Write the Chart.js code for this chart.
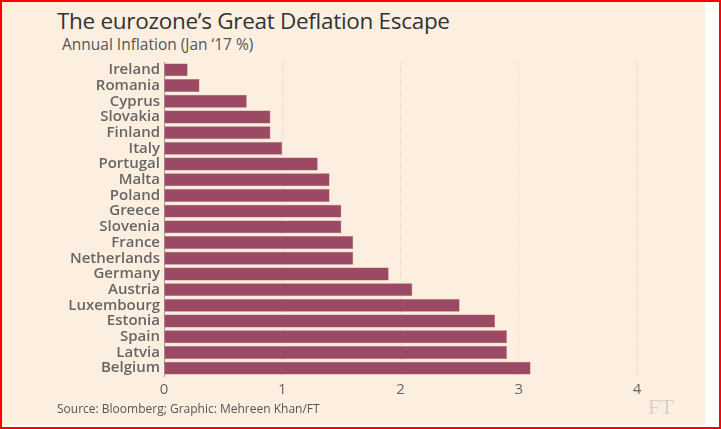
<!DOCTYPE html>
<html>
<head>
<meta charset="utf-8">
<script src="https://cdn.jsdelivr.net/npm/chart.js@4"></script>
<style>
  html, body { margin: 0; padding: 0; background: #fff; }
  #frame { position: absolute; left: 0; top: 0; width: 717px; height: 425px; border: 2px solid #f00; background: #fff; }
  #paper { position: absolute; left: 0; top: 0; width: 703px; height: 423px; background: #fcefe0; }
  .txt { position: absolute; font-family: "Open Sans", sans-serif; white-space: nowrap; }
  #title { left: 55px; top: 3px; font-size: 22.5px; color: #333; letter-spacing: -0.3px; }
  #subtitle { left: 60px; top: 31px; font-size: 15.5px; color: #555; }
  #source { left: 55px; top: 398px; font-size: 12px; color: #555; }
  #logo { position: absolute; left: 646px; top: 392px; font-family: "Liberation Serif", serif; font-size: 22px; color: #d9d0c6; }
  #wrap { position: absolute; left: 0; top: 48px; width: 703px; height: 360px; }
</style>
</head>
<body>
<div id="frame">
  <div id="paper">
    <div id="title" class="txt">The eurozone’s Great Deflation Escape</div>
    <div id="subtitle" class="txt">Annual Inflation (Jan ‘17 %)</div>
    <div id="wrap"><canvas id="inflationChart"></canvas></div>
    <div id="source" class="txt">Source: Bloomberg; Graphic: Mehreen Khan/FT</div>
    <div id="logo">FT</div>
  </div>
</div>
<script>
var countries = ['Ireland', 'Romania', 'Cyprus', 'Slovakia', 'Finland', 'Italy', 'Portugal', 'Malta', 'Poland', 'Greece',
                 'Slovenia', 'France', 'Netherlands', 'Germany', 'Austria', 'Luxembourg', 'Estonia', 'Spain', 'Latvia', 'Belgium'];
var inflation = [0.2, 0.3, 0.7, 0.9, 0.9, 1.0, 1.3, 1.4, 1.4, 1.5,
                 1.5, 1.6, 1.6, 1.9, 2.1, 2.5, 2.8, 2.9, 2.9, 3.1];
var xTicks = [0, 1, 2, 3, 4];

document.addEventListener('DOMContentLoaded', function() {
    var ctx = document.getElementById('inflationChart').getContext('2d');

    new Chart(ctx, {
        type: 'bar',
        data: {
            labels: countries,
            datasets: [{
                label: 'Annual inflation',
                data: inflation,
                backgroundColor: '#9c4a63',
                borderColor: '#b0657a',
                borderWidth: 0.5,
                barPercentage: 0.82,
                categoryPercentage: 1
            }]
        },
        options: {
            indexAxis: 'y',
            responsive: true,
            maintainAspectRatio: false,
            animation: false,
            layout: { padding: { left: 0, right: 68, top: 12, bottom: 8 } },
            scales: {
                x: {
                    min: 0,
                    max: 4,
                    afterBuildTicks: function(scale) {
                        scale.ticks = xTicks.map(function(v) { return { value: v }; });
                    },
                    afterFit: function(scale) { scale.height = 26; },
                    grid: {
                        drawTicks: false,
                        color: function(c) { return c.tick && c.tick.value === 0 ? 'rgba(0,0,0,0)' : '#d6cbc0'; },
                        lineWidth: 1
                    },
                    border: { display: false, dash: [1, 2] },
                    ticks: {
                        padding: 5,
                        color: '#666',
                        font: { family: 'Open Sans', size: 15 }
                    }
                },
                y: {
                    afterFit: function(scale) { scale.width = 162; },
                    grid: { display: false, drawTicks: false },
                    border: { display: true, color: '#9a9a9a', width: 1 },
                    ticks: {
                        autoSkip: false,
                        padding: 4,
                        color: '#666',
                        font: { family: 'Open Sans', size: 15, weight: '600', lineHeight: 1 }
                    }
                }
            },
            plugins: {
                legend: { display: false },
                tooltip: { enabled: false }
            }
        }
    });
});
</script>
</body>
</html>
